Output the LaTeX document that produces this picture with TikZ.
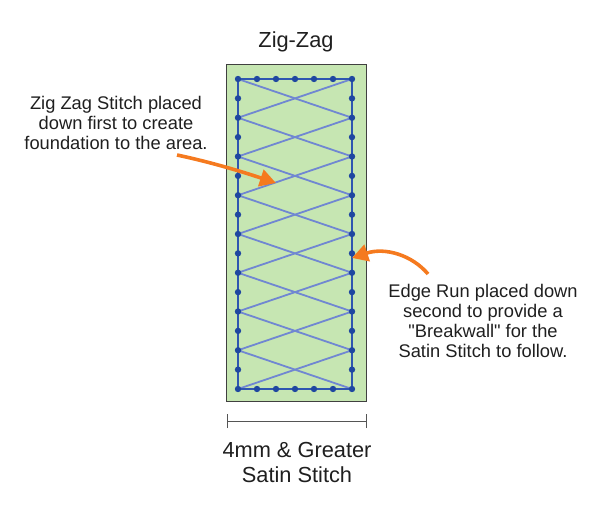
\documentclass[tikz,border=0pt]{standalone}
\usepackage{fontspec}
\setmainfont{Liberation Sans}
\usetikzlibrary{arrows.meta}
\definecolor{fillgreen}{HTML}{C6E6B2}
\definecolor{edgeblue}{HTML}{2F56B0}
\definecolor{zzblue}{HTML}{7087D2}
\definecolor{dotblue}{HTML}{1F47A0}
\definecolor{arroworange}{HTML}{F57A1F}
\definecolor{dimgray}{HTML}{555555}
\tikzset{
  lbl/.style={inner sep=0pt, align=center, text=black!88, font=\fontsize{18.3}{20}\selectfont},
  big/.style={inner sep=0pt, align=center, text=black!88, font=\fontsize{21.8}{25}\selectfont},
  callout/.style={draw=arroworange, line width=3.6pt, -{Triangle[length=16pt,width=17pt]}},
  edgerun/.style={draw=edgeblue, line width=1.8pt},
  zigzag/.style={draw=zzblue, line width=1.8pt},
  stitchdot/.style={fill=dotblue},
  dimline/.style={draw=dimgray, line width=1pt}
}
\begin{document}
\begin{tikzpicture}[x=1pt,y=-1pt]
\useasboundingbox (0,0) rectangle (600,508);
% area
\fill[fillgreen] (226,65) rectangle (366,401);
\draw[draw=black!75, line width=1pt] (226,65) rectangle (366,401);
% zigzag
\foreach \k in {0,...,3}{
  \draw[zigzag] (238,{79+4*\k*19.375}) -- (352,{79+(4*\k+2)*19.375}) -- (238,{79+(4*\k+4)*19.375});
  \draw[zigzag] (352,{79+4*\k*19.375}) -- (238,{79+(4*\k+2)*19.375}) -- (352,{79+(4*\k+4)*19.375});
}
% edge run
\draw[edgerun] (238,79) rectangle (352,389);
\foreach \i in {0,...,6}{
  \fill[stitchdot] ({238+\i*19},79) circle (3.2);
  \fill[stitchdot] ({238+\i*19},389) circle (3.2);
}
\foreach \j in {1,...,15}{
  \fill[stitchdot] (238,{79+\j*19.375}) circle (3.2);
  \fill[stitchdot] (352,{79+\j*19.375}) circle (3.2);
}
% texts
\node[big, anchor=base] (title) at (296,48) {Zig-Zag};
\node[lbl] (lefttext) at (116,123) {Zig Zag Stitch placed\\down first to create\\foundation to the area.};
\node[lbl] (righttext) at (483,321) {Edge Run placed down\\second to provide a\\\textquotedbl Breakwall\textquotedbl{} for the\\Satin Stitch to follow.};
\node[big, anchor=base] (bottomtext) at (297,457) {4mm \& Greater};
\node[big, anchor=base] (bottomtext2) at (297,482) {Satin Stitch};
% callouts
\coordinate (a1s) at (177,155);
\coordinate (a1e) at (276,183);
\coordinate (a2s) at (428,274);
\coordinate (a2e) at (352,258);
\draw[callout] (a1s) .. controls (210,162) and (240,171) .. (a1e);
\draw[callout] (a2s) .. controls (412,255) and (385,247) .. (a2e);
% dimension
\coordinate (d1) at (227,421);
\coordinate (d2) at (366,421);
\draw[dimline] (d1) -- (d2);
\draw[dimline] ([yshift=-7]d1) -- ([yshift=7]d1);
\draw[dimline] ([yshift=-7]d2) -- ([yshift=7]d2);
\end{tikzpicture}
\end{document}
